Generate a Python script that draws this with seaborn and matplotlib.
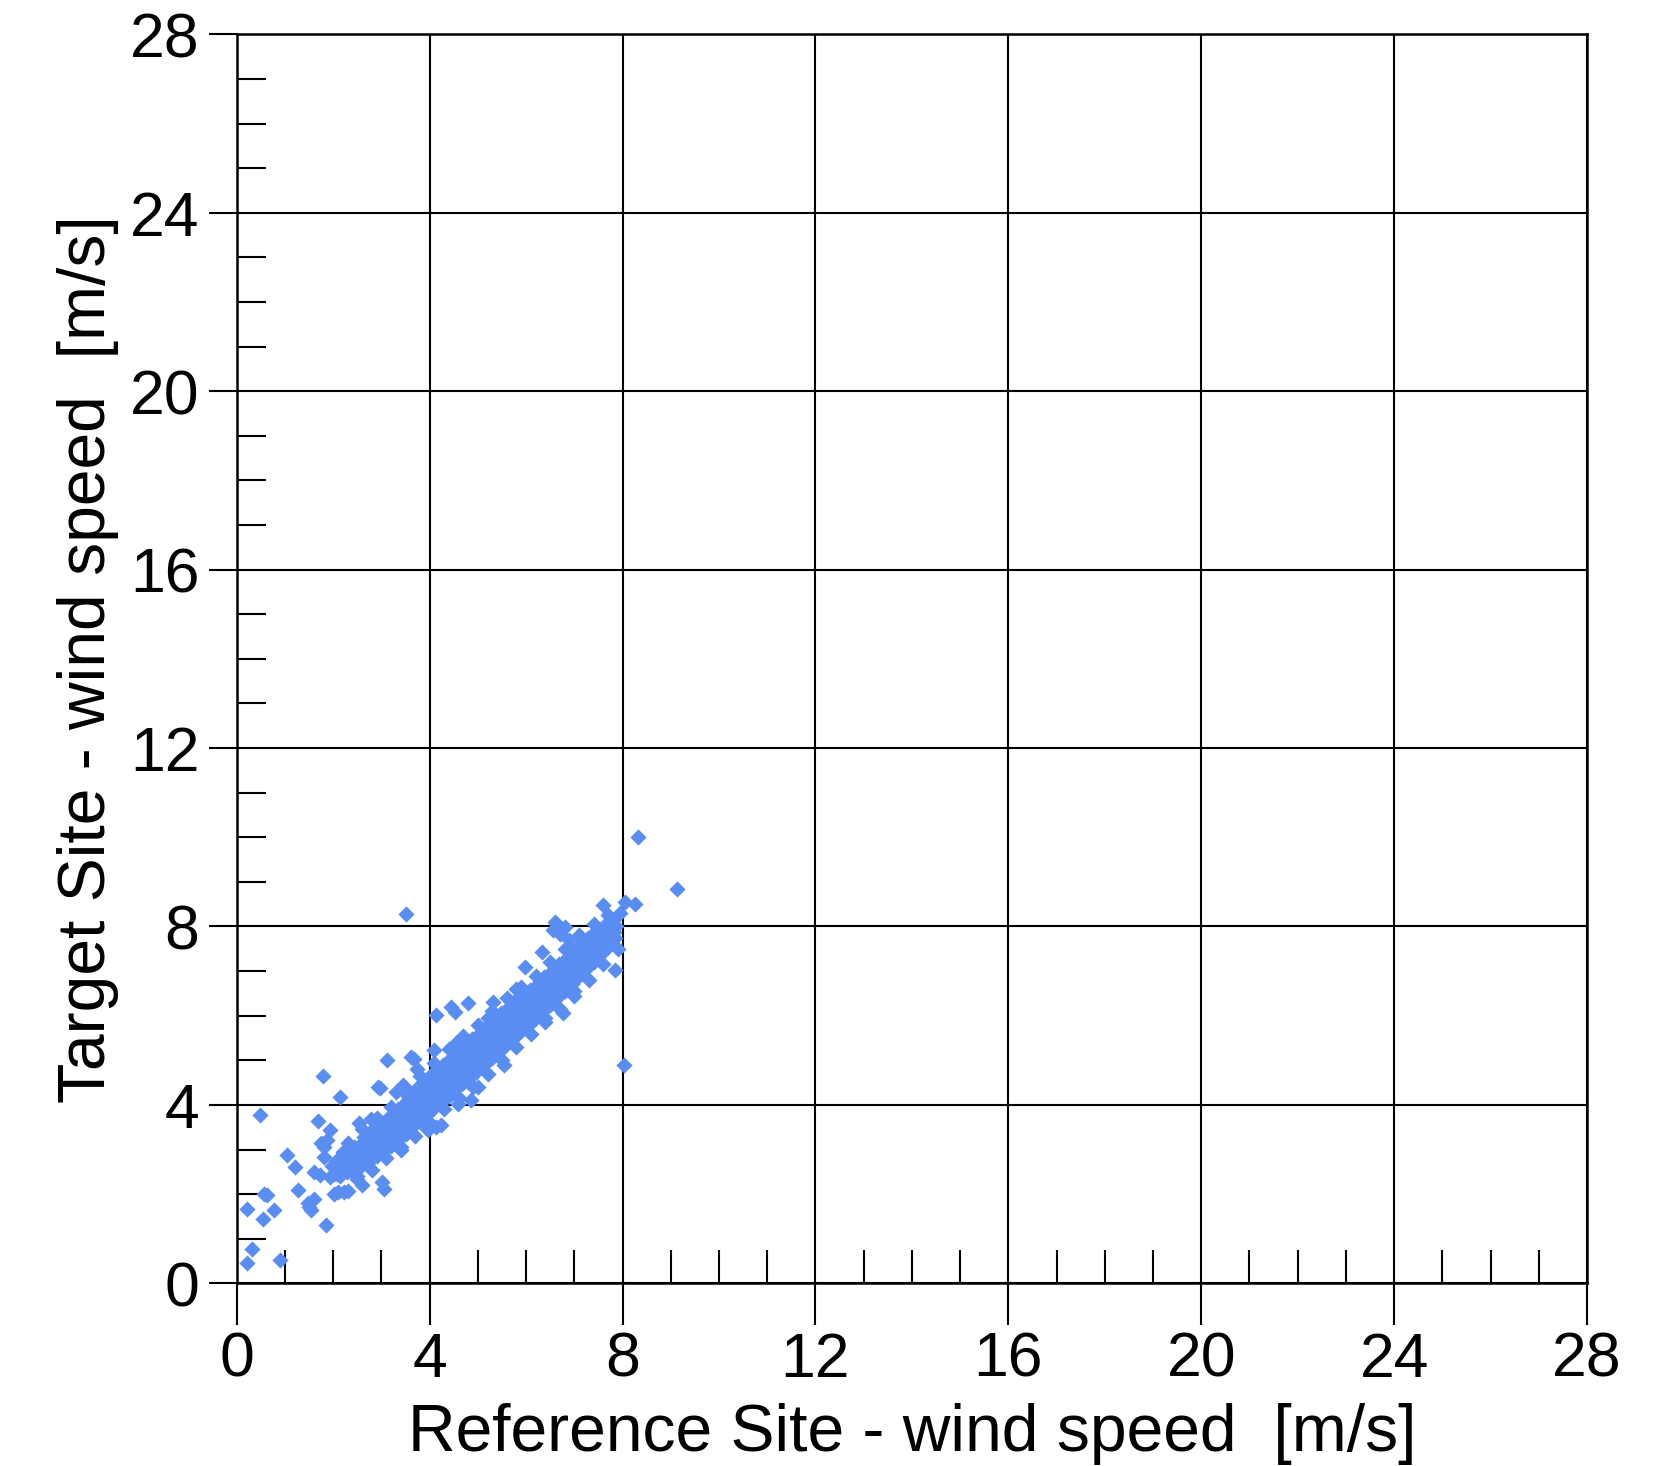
import pandas as pd
import seaborn as sns
import matplotlib.pyplot as plt

# Reference site vs target site wind speed [m/s]
# dense band of paired samples
core_points = [
    (2.02, 2.45), (1.98, 2.62), (2.05, 2.75),
    (2.14, 2.40), (2.17, 2.58), (2.12, 2.78), (2.20, 2.95),
    (2.28, 2.50), (2.33, 2.65), (2.30, 2.82), (2.27, 3.00),
    (2.46, 2.55), (2.43, 2.72), (2.48, 2.88), (2.44, 3.05), (2.50, 2.40),
    (2.58, 2.62), (2.62, 2.78), (2.60, 2.95), (2.57, 3.12), (2.63, 3.28),
    (2.73, 2.70), (2.77, 2.88), (2.75, 3.05), (2.72, 3.20), (2.78, 3.35),
    (2.90, 2.85), (2.88, 3.00), (2.93, 3.18), (2.91, 3.34), (2.87, 3.50),
    (3.04, 2.95), (3.07, 3.10), (3.02, 3.28), (3.06, 3.45), (3.08, 3.62),
    (3.20, 3.08), (3.18, 3.25), (3.23, 3.42), (3.21, 3.58), (3.17, 3.75),
    (3.35, 3.22), (3.38, 3.40), (3.33, 3.56), (3.36, 3.72), (3.34, 3.90), (3.40, 3.05),
    (3.50, 3.35), (3.48, 3.52), (3.53, 3.68), (3.51, 3.85), (3.47, 4.02), (3.55, 4.20),
    (3.64, 3.50), (3.67, 3.66), (3.63, 3.82), (3.66, 3.98), (3.62, 4.15), (3.68, 4.32),
    (3.80, 3.62), (3.78, 3.80), (3.83, 3.96), (3.81, 4.12), (3.77, 4.30), (3.84, 4.48),
    (3.95, 3.78), (3.97, 3.95), (3.93, 4.10), (3.96, 4.28), (3.92, 4.45), (3.98, 4.62),
    (4.10, 3.92), (4.08, 4.10), (4.12, 4.25), (4.11, 4.42), (4.07, 4.60), (4.13, 4.78),
    (4.24, 4.05), (4.27, 4.22), (4.23, 4.40), (4.26, 4.56), (4.22, 4.72), (4.28, 4.90),
    (4.40, 4.20), (4.38, 4.38), (4.43, 4.55), (4.41, 4.72), (4.37, 4.88), (4.44, 5.05),
    (4.55, 4.35), (4.57, 4.52), (4.53, 4.70), (4.56, 4.86), (4.52, 5.02), (4.58, 5.20), (4.54, 5.38),
    (4.70, 4.48), (4.68, 4.65), (4.73, 4.82), (4.71, 4.98), (4.67, 5.15), (4.74, 5.32),
    (4.85, 4.62), (4.87, 4.80), (4.83, 4.96), (4.86, 5.12), (4.82, 5.30), (4.88, 5.48),
    (5.00, 4.78), (4.98, 4.95), (5.03, 5.10), (5.01, 5.27), (4.97, 5.44), (5.04, 5.62),
    (5.15, 4.92), (5.17, 5.08), (5.13, 5.25), (5.16, 5.42), (5.12, 5.58), (5.18, 5.76),
    (5.30, 5.06), (5.28, 5.22), (5.33, 5.40), (5.31, 5.56), (5.27, 5.72), (5.34, 5.90),
    (5.45, 5.20), (5.47, 5.38), (5.43, 5.55), (5.46, 5.70), (5.42, 5.88), (5.48, 6.05),
    (5.60, 5.36), (5.58, 5.52), (5.63, 5.70), (5.61, 5.86), (5.57, 6.02), (5.64, 6.20),
    (5.75, 5.50), (5.77, 5.66), (5.73, 5.84), (5.76, 6.00), (5.72, 6.18), (5.78, 6.35),
    (5.90, 5.65), (5.88, 5.80), (5.93, 5.97), (5.91, 6.13), (5.87, 6.30), (5.94, 6.46),
    (6.05, 5.80), (6.07, 5.95), (6.03, 6.10), (6.06, 6.26), (6.02, 6.42), (6.08, 6.58),
    (6.20, 5.95), (6.18, 6.10), (6.23, 6.25), (6.21, 6.40), (6.17, 6.56), (6.24, 6.72),
    (6.35, 6.10), (6.37, 6.25), (6.33, 6.40), (6.36, 6.55), (6.32, 6.70), (6.38, 6.86),
    (6.50, 6.25), (6.48, 6.40), (6.53, 6.55), (6.51, 6.70), (6.47, 6.85), (6.54, 7.00),
    (6.65, 6.40), (6.67, 6.55), (6.63, 6.70), (6.66, 6.85), (6.62, 7.00), (6.68, 7.15),
    (6.80, 6.56), (6.78, 6.70), (6.83, 6.85), (6.81, 7.00), (6.77, 7.15), (6.84, 7.30),
    (6.95, 6.72), (6.97, 6.86), (6.93, 7.00), (6.96, 7.15), (6.92, 7.30), (6.98, 7.45),
    (7.10, 6.88), (7.08, 7.02), (7.13, 7.16), (7.11, 7.30), (7.07, 7.45), (7.14, 7.60),
    (7.25, 7.05), (7.27, 7.18), (7.23, 7.32), (7.26, 7.46), (7.22, 7.60), (7.28, 7.75),
    (7.40, 7.20), (7.38, 7.34), (7.43, 7.48), (7.41, 7.62), (7.37, 7.76), (7.44, 7.90),
    (7.55, 7.38), (7.57, 7.50), (7.53, 7.64), (7.56, 7.78), (7.52, 7.92),
    (7.70, 7.55), (7.68, 7.68), (7.73, 7.82), (7.71, 7.95), (7.67, 8.08),
    (7.85, 7.75), (7.83, 7.88), (7.87, 8.02), (7.80, 8.15),
]

# upper and lower fringe of the band
fringe_points = [
    (2.30, 3.15), (2.60, 3.45), (2.90, 3.70), (3.20, 3.95), (3.50, 4.35),
    (3.80, 4.65), (4.10, 4.95), (4.40, 5.25), (4.70, 5.55), (5.00, 5.80),
    (5.30, 6.10), (5.60, 6.40), (5.90, 6.65), (6.20, 6.90), (6.50, 7.20),
    (6.80, 7.50), (7.10, 7.80), (7.40, 8.05), (7.70, 8.25),
    (2.50, 2.35), (2.80, 2.55), (3.10, 2.80), (3.40, 3.00), (3.70, 3.30),
    (4.00, 3.60), (4.30, 3.90), (4.60, 4.15), (4.90, 4.40), (5.20, 4.70),
    (5.50, 5.00), (5.80, 5.30), (6.10, 5.60), (6.40, 5.85), (6.70, 6.15),
    (7.00, 6.45), (7.30, 6.80), (7.60, 7.15), (7.90, 7.50),
]

# scattered samples around the band
stray_points = [
    (0.21, 0.46), (0.31, 0.78), (0.89, 0.52), (0.21, 1.67), (0.54, 1.45),
    (0.78, 1.64), (0.57, 2.00), (0.63, 1.98), (0.49, 3.78), (1.04, 2.87),
    (1.21, 2.61), (1.28, 2.09), (1.47, 1.80), (1.53, 1.64), (1.50, 1.72),
    (1.60, 1.90), (1.85, 1.30), (1.68, 3.65), (1.79, 4.64), (2.15, 4.18),
    (1.74, 3.14), (1.80, 3.06), (1.87, 3.21), (1.94, 3.43), (1.80, 2.83),
    (1.60, 2.50), (1.73, 2.42), (1.94, 2.38), (2.08, 2.46), (2.01, 2.01),
    (2.10, 2.04), (2.22, 2.05), (2.30, 2.08), (2.60, 2.20), (3.02, 2.27),
    (3.05, 2.12), (2.53, 3.59), (2.78, 3.69), (2.92, 4.40), (2.97, 4.38),
    (3.12, 5.00), (3.61, 5.07), (3.68, 5.04), (3.74, 4.80), (4.10, 5.22),
    (3.51, 8.29), (4.13, 6.01), (4.44, 6.20), (4.52, 6.08), (4.79, 6.28),
    (5.31, 6.31), (5.97, 7.09), (6.32, 7.43), (6.60, 8.10), (6.80, 7.99),
    (6.55, 7.92), (6.70, 7.82), (6.88, 7.70), (7.60, 8.48), (8.05, 8.55),
    (8.26, 8.51), (7.95, 8.30), (8.31, 10.00), (9.13, 8.83), (7.85, 7.02),
    (6.77, 6.05), (5.55, 4.89), (5.00, 4.40), (4.86, 4.10), (4.58, 4.03),
    (4.24, 3.54), (4.14, 3.50), (3.96, 3.43), (8.02, 4.89), (3.45, 4.45),
    (3.30, 4.30), (5.80, 6.60), (5.20, 5.95), (6.40, 5.95), (7.00, 6.55),
]

x_major = [0, 4, 8, 12, 16, 20, 24, 28]
y_major = [0, 4, 8, 12, 16, 20, 24, 28]
minor_ticks = [1, 2, 3, 5, 6, 7, 9, 10, 11, 13, 14, 15, 17, 18, 19,
               21, 22, 23, 25, 26, 27]

df = pd.DataFrame(core_points + fringe_points + stray_points,
                  columns=["ref", "target"])

sns.set_theme(style="white")
plt.rcParams["font.family"] = ["Liberation Sans", "DejaVu Sans"]
plt.rcParams["text.color"] = "black"
plt.rcParams["axes.labelcolor"] = "black"
plt.rcParams["xtick.color"] = "black"
plt.rcParams["ytick.color"] = "black"

fig = plt.figure(figsize=(16.78, 14.66), dpi=100)
ax = fig.add_axes([0.1411, 0.1246, 0.8047, 0.8520])

sns.scatterplot(data=df, x="ref", y="target", ax=ax, marker="D", s=68,
                color="#5A8DF2", linewidth=0, zorder=3)

ax.set_xlim(0, 28)
ax.set_ylim(0, 28)
ax.set_xticks(x_major)
ax.set_yticks(y_major)
ax.set_xticks(minor_ticks, minor=True)
ax.set_yticks(minor_ticks, minor=True)
ax.grid(True, which="major", color="black", linewidth=1.5)
ax.set_axisbelow(True)

for side in ["left", "right", "top", "bottom"]:
    ax.spines[side].set_color("black")
    ax.spines[side].set_linewidth(1.8)

ax.tick_params(axis="x", which="major", direction="out", length=30, width=1.5,
               color="black", labelsize=45, pad=4, bottom=True)
ax.tick_params(axis="y", which="major", direction="out", length=20, width=1.5,
               color="black", labelsize=45, pad=7, left=True)
ax.tick_params(axis="x", which="minor", direction="in", length=24, width=1.5,
               color="black", bottom=True)
ax.tick_params(axis="y", which="minor", direction="in", length=21, width=1.5,
               color="black", left=True)

ax.set_xlabel("Reference Site - wind speed  [m/s]", fontsize=47.5, labelpad=10)
ax.set_ylabel("Target Site - wind speed  [m/s]", fontsize=47.5, labelpad=8)

fig.savefig("out.png", dpi=100, facecolor="white")
plt.close(fig)
